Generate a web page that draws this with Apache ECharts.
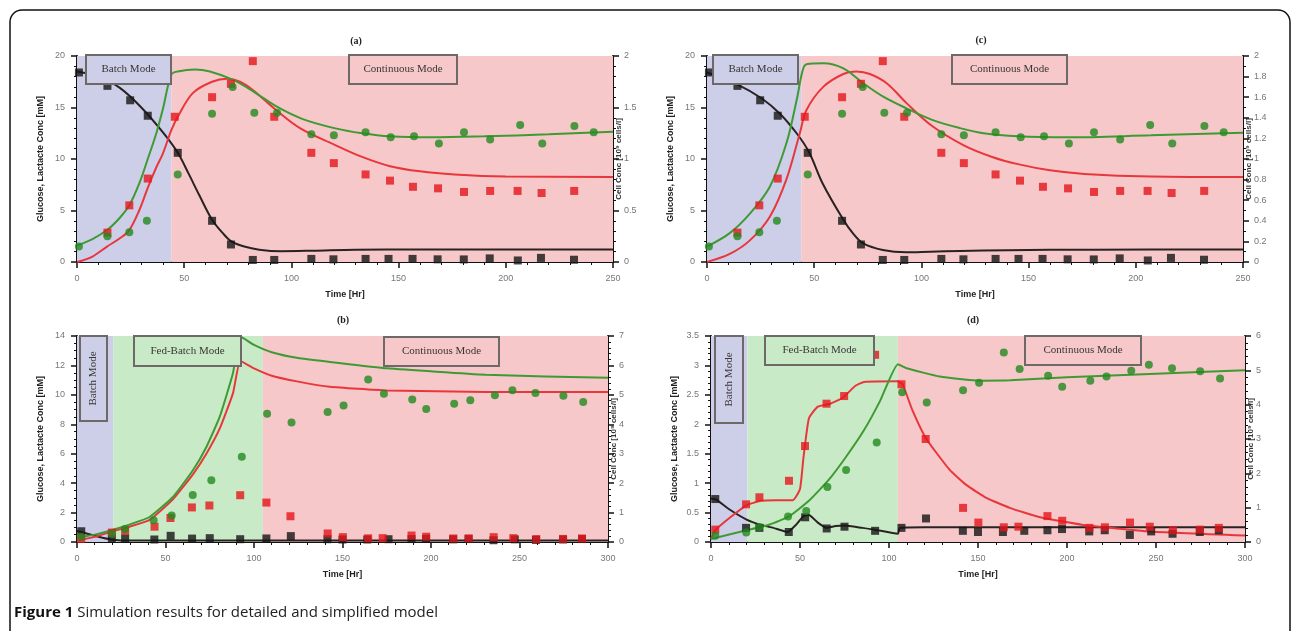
<!DOCTYPE html>
<html>
<head>
<meta charset="utf-8">
<script src="https://cdn.jsdelivr.net/npm/echarts@6/dist/echarts.min.js"></script>
<style>
  html, body { margin: 0; padding: 0; background: #fff; }
  #chart { width: 1292px; height: 631px; }
</style>
</head>
<body>
<div id="chart"></div>
<script>
// Four simulation panels: (a) (c) batch -> continuous, (b) (d) batch -> fed-batch -> continuous.
// Points are measurements, lines are model output. Glucose/lactate on the left axis,
// cell concentration on the right axis.

// ---- (a)/(c) measurements (same experiment in both panels) ----
const expGlucoseAC = [[0.9,18.4],[14.2,17.1],[24.8,15.7],[33,14.2],[47,10.6],[63,4.0],[71.8,1.7],[82,0.2],[92,0.2],[109.3,0.3],[119.6,0.26],[134.6,0.3],[145.3,0.3],[156.5,0.3],[168.2,0.26],[180.4,0.25],[192.5,0.35],[205.6,0.15],[216.4,0.4],[231.8,0.22]];
const expLactateAC = [[14.2,2.85],[24.4,5.5],[33,8.1],[45.6,14.1],[63,16.0],[71.8,17.3],[82,19.5],[92,14.1],[109.3,10.6],[119.8,9.6],[134.6,8.5],[146,7.9],[156.7,7.3],[168.4,7.15],[180.5,6.8],[192.7,6.9],[205.5,6.9],[216.7,6.7],[231.9,6.9]];
const expCellsAC = [[0.9,0.15],[14.2,0.25],[24.4,0.29],[32.6,0.40],[47,0.85],[63,1.44],[72.6,1.70],[82.7,1.45],[93.3,1.45],[109.3,1.24],[119.8,1.23],[134.6,1.26],[146.3,1.21],[157.2,1.22],[168.8,1.15],[180.5,1.26],[192.7,1.19],[206.7,1.33],[217,1.15],[232,1.32],[241,1.26]];

// ---- (a) model ----
const modelGlucoseA = [[0,18.5],[10,18.0],[20,16.9],[30,15.0],[40,12.6],[47,10.6],[52,8.6],[57,6.5],[63,4.1],[68,2.8],[72,2.0],[78,1.5],[85,1.2],[95,1.05],[110,1.1],[130,1.2],[160,1.22],[200,1.22],[250,1.22]];
const modelLactateA = [[0,0],[7,0.5],[14,1.5],[20,2.3],[24.4,3.1],[29,5.0],[33,7.2],[37,9.2],[40,10.5],[44,12.8],[47,14.1],[54,16.4],[63,17.5],[70,17.8],[76,17.5],[82,16.7],[92,14.9],[104,13.0],[120,11.4],[133,10.2],[146,9.3],[160,8.8],[176,8.5],[200,8.3],[250,8.25]];
const modelCellsA = [[0,0.16],[7,0.22],[14,0.31],[20,0.43],[24.4,0.55],[29,0.76],[33,1.0],[37,1.25],[40,1.48],[44,1.82],[47,1.85],[55,1.87],[62,1.85],[72.6,1.77],[82.7,1.65],[93,1.51],[105,1.39],[120,1.3],[133,1.25],[146,1.22],[165,1.21],[190,1.22],[220,1.24],[250,1.265]];

// ---- (c) model ----
const modelGlucoseC = [[0,18.4],[14.5,17.2],[25.4,15.9],[34,14.4],[41.8,12.5],[47.5,10.7],[54,7.6],[63.6,4.1],[68,2.8],[72.9,1.8],[82,1.16],[93,0.94],[104,1.0],[118,1.07],[140,1.15],[180,1.2],[250,1.22]];
const modelLactateC = [[0,0],[10.6,0.78],[20,2.1],[29.3,4.4],[37,8.0],[43.3,12.5],[46.4,14.75],[54.2,17.0],[63.6,18.25],[69.8,18.5],[76,18.25],[83.8,17.35],[93.2,15.4],[105,13.2],[120,11.3],[133,10.2],[145,9.5],[160,8.9],[176,8.55],[207,8.3],[250,8.25]];
const modelCellsC = [[0,0.15],[10.6,0.28],[20,0.47],[29.3,0.73],[37,1.15],[41.8,1.57],[44.6,1.86],[46.4,1.92],[54.2,1.93],[63.6,1.88],[72.9,1.735],[82.2,1.605],[93.2,1.49],[105,1.38],[118,1.3],[129,1.25],[145,1.22],[168,1.21],[207,1.23],[250,1.255]];

// ---- (b)/(d) measurements (same experiment in both panels) ----
const expGlucoseBD = [[2.4,0.73],[19.7,0.24],[27.2,0.24],[43.7,0.17],[52.9,0.42],[65,0.23],[75,0.26],[92.2,0.19],[107,0.24],[120.8,0.4],[141.5,0.19],[150,0.17],[164,0.17],[176,0.19],[189,0.2],[197.2,0.22],[212.5,0.18],[221.2,0.2],[235.3,0.12],[247.3,0.18],[259.3,0.14],[274.6,0.17],[285.3,0.2]];
const expLactateBD = [[2.4,0.21],[19.7,0.64],[27.2,0.76],[43.8,1.04],[52.8,1.63],[64.9,2.35],[74.8,2.48],[92.2,3.18],[107,2.68],[120.6,1.75],[141.6,0.58],[150.2,0.33],[164.5,0.25],[172.7,0.26],[189,0.44],[197.3,0.36],[212.6,0.24],[221.3,0.25],[235.4,0.33],[246.5,0.26],[259.5,0.2],[274.6,0.21],[285.3,0.24]];
const expCellsBD = [[2.4,0.18],[19.8,0.28],[27.1,0.44],[43.3,0.74],[53.5,0.9],[65.4,1.6],[75.9,2.1],[93.1,2.9],[107.4,4.36],[121.2,4.06],[141.6,4.42],[150.6,4.64],[164.5,5.52],[173.4,5.04],[189.4,4.84],[197.3,4.52],[213.1,4.7],[222.2,4.82],[236.1,4.99],[246,5.16],[259,5.06],[274.8,4.97],[286,4.76]];

// ---- (b) model ----
const modelGlucoseB = [[0,0.75],[5,0.6],[10,0.42],[15,0.27],[20,0.16],[30,0.1],[60,0.1],[105,0.1],[200,0.1],[300,0.1]];
const modelLactateB = [[0,0.1],[10,0.35],[19.4,0.7],[30,1.05],[41,1.5],[54.2,2.9],[65.5,4.6],[73.1,6.0],[80.6,7.7],[88.1,10.1],[92.3,12.3],[100,11.8],[110,11.3],[125,10.9],[142.8,10.55],[175,10.3],[231,10.2],[300,10.2]];
const modelCellsB = [[0,0.15],[10,0.25],[19.4,0.4],[30,0.6],[41,0.85],[54.2,1.53],[65.5,2.44],[73.1,3.23],[80.6,4.25],[88.1,5.73],[92.3,6.98],[100,6.7],[110,6.45],[125,6.25],[142.8,6.12],[175,5.9],[231,5.68],[300,5.58]];

// ---- (d) model ----
const modelGlucoseD = [[0,0.74],[3,0.72],[10,0.56],[20,0.38],[27,0.3],[35,0.24],[43,0.17],[48,0.3],[52,0.44],[55,0.46],[60,0.33],[65,0.24],[70,0.27],[75,0.28],[85,0.24],[92,0.21],[105,0.14],[106,0.24],[120,0.25],[200,0.25],[300,0.25]];
const modelLactateD = [[0,0.05],[2.4,0.2],[10,0.4],[19.7,0.62],[28,0.7],[36,0.71],[46,0.71],[50,0.9],[52,1.45],[55,2.1],[60,2.3],[67,2.35],[74,2.45],[81,2.65],[86,2.72],[105,2.73],[107.8,2.67],[113,2.25],[121,1.75],[134,1.23],[143.4,0.97],[154.7,0.75],[167.8,0.58],[185,0.42],[209,0.29],[246.5,0.18],[300,0.11]];
const modelCellsD = [[0,0.09],[20,0.34],[33,0.51],[44,0.75],[55,1.2],[66,1.8],[76,2.49],[86,3.26],[95,4.11],[105,5.18],[110,5.06],[128.5,4.82],[151,4.7],[168,4.71],[200,4.8],[250,4.9],[300,5.0]];

// ---- operating-mode spans [mode, start, end] (hours) ----
const modesAC = [['batch',0,44],['cont',44,250]];
const modesBD = [['batch',0,20.5],['fed',20.5,105],['cont',105,300]];

const LEFT_NAME = 'Glucose, Lactacte Conc [mM]';
const RIGHT_NAME = 'Cell Conc [10\u2079 cells/l]';

const REGION = { batch: '#cdcee8', fed: '#c9eac6', cont: '#f6c8c9' };
const PT = { glu: '#151515', lac: '#e5161c', cell: '#23891f' };
const LN = { glu: '#2a2222', lac: '#e8373c', cell: '#3f9a34' };
const SERIF = 'Liberation Serif';
const SANS = 'Liberation Sans';

// order: a, c, b, d
const panels = [
  { title: '(a)', tx: 356, ty: 41, grid: { left: 77, top: 56, width: 536, height: 206 }, xMax: 250,
    left: { max: 20, interval: 5, minor: 5 }, right: { max: 2, interval: 0.5, minor: 5 },
    modes: modesAC, smooth: 0.35,
    model: [modelGlucoseA, modelLactateA, modelCellsA], exp: [expGlucoseAC, expLactateAC, expCellsAC] },
  { title: '(c)', tx: 981, ty: 40, grid: { left: 707, top: 56, width: 536, height: 206 }, xMax: 250,
    left: { max: 20, interval: 5, minor: 5 }, right: { max: 2, interval: 0.2, minor: 2 },
    modes: modesAC, smooth: 0.35,
    model: [modelGlucoseC, modelLactateC, modelCellsC], exp: [expGlucoseAC, expLactateAC, expCellsAC] },
  { title: '(b)', tx: 343, ty: 320, grid: { left: 77, top: 336, width: 531, height: 206 }, xMax: 300,
    left: { max: 14, interval: 2, minor: 4 }, right: { max: 7, interval: 1, minor: 5 },
    modes: modesBD, smooth: 0.15,
    model: [modelGlucoseB, modelLactateB, modelCellsB], exp: [expGlucoseBD, expLactateBD, expCellsBD] },
  { title: '(d)', tx: 973, ty: 320, grid: { left: 711, top: 336, width: 534, height: 206 }, xMax: 300,
    left: { max: 3.5, interval: 0.5, minor: 5 }, right: { max: 6, interval: 1, minor: 5 },
    modes: modesBD, smooth: 0.15,
    model: [modelGlucoseD, modelLactateD, modelCellsD], exp: [expGlucoseBD, expLactateBD, expCellsBD] },
];

// mode label boxes: [text, x, y, w, h, vertical, mode]
const modeBoxes = [
  ['Batch Mode', 86, 55, 85, 29, false, 'batch'],
  ['Continuous Mode', 349, 55, 108, 29, false, 'cont'],
  ['Batch Mode', 713, 55, 85, 29, false, 'batch'],
  ['Continuous Mode', 952, 55, 115, 29, false, 'cont'],
  ['Batch Mode', 80, 336, 27, 85, true, 'batch'],
  ['Fed-Batch Mode', 134, 336, 107, 30, false, 'fed'],
  ['Continuous Mode', 384, 337, 115, 29, false, 'cont'],
  ['Batch Mode', 715, 336, 28, 87, true, 'batch'],
  ['Fed-Batch Mode', 765, 336, 109, 29, false, 'fed'],
  ['Continuous Mode', 1025, 336, 116, 29, false, 'cont'],
];

const axisLine = { show: true, onZero: false, lineStyle: { color: '#111', width: 2 } };
const axisTick = { show: true, length: 6, lineStyle: { color: '#111', width: 1.5 } };
const minorStyle = { color: '#111', width: 1 };
const labelStyle = { color: '#777', fontSize: 9, fontFamily: SANS };
const nameStyle = { color: '#222', fontSize: 9, fontWeight: 'bold', fontFamily: SANS };

const xAxes = [], yAxes = [], series = [];

panels.forEach((p, g) => {
  xAxes.push({
    type: 'value', gridIndex: g, min: 0, max: p.xMax, interval: 50,
    axisLine, axisTick,
    minorTick: { show: true, splitNumber: 5, length: 3, lineStyle: minorStyle },
    splitLine: { show: false },
    axisLabel: { ...labelStyle, margin: 12 },
    name: 'Time [Hr]', nameLocation: 'middle', nameGap: 28, nameMoveOverlap: false, nameTextStyle: nameStyle,
  });
  yAxes.push({
    type: 'value', gridIndex: g, position: 'left', min: 0, max: p.left.max, interval: p.left.interval,
    axisLine, axisTick,
    minorTick: { show: true, splitNumber: p.left.minor, length: 3, lineStyle: minorStyle },
    splitLine: { show: false },
    axisLabel: { ...labelStyle, margin: 12 },
    name: LEFT_NAME, nameLocation: 'middle', nameGap: 32, nameRotate: 90, nameMoveOverlap: false,
    nameTextStyle: nameStyle,
  });
  yAxes.push({
    type: 'value', gridIndex: g, position: 'right', min: 0, max: p.right.max, interval: p.right.interval,
    axisLine, axisTick,
    minorTick: { show: true, splitNumber: p.right.minor, length: 3, lineStyle: minorStyle },
    splitLine: { show: false },
    axisLabel: { ...labelStyle, margin: 11 },
    name: RIGHT_NAME, nameLocation: 'middle', nameGap: 2, nameRotate: 90, nameMoveOverlap: false,
    nameTextStyle: { ...nameStyle, fontSize: 8, color: '#333' },
  });

  const yl = 2 * g, yr = 2 * g + 1;
  // background mode spans
  series.push({
    type: 'line', xAxisIndex: g, yAxisIndex: yl, data: [], silent: true, z: 1,
    markArea: {
      silent: true,
      data: p.modes.map(([m, a, b]) => [{ xAxis: a, itemStyle: { color: REGION[m], opacity: 1 } }, { xAxis: b }]),
    },
  });
  const keys = ['glu', 'lac', 'cell'];
  keys.forEach((k, i) => {
    series.push({
      type: 'line', xAxisIndex: g, yAxisIndex: k === 'cell' ? yr : yl,
      data: p.model[i], showSymbol: false, smooth: p.smooth, silent: true, z: 3,
      lineStyle: { color: LN[k], width: 2 },
    });
  });
  keys.forEach((k, i) => {
    series.push({
      type: 'scatter', xAxisIndex: g, yAxisIndex: k === 'cell' ? yr : yl,
      data: p.exp[i], symbol: k === 'cell' ? 'circle' : 'rect', symbolSize: 8, silent: true, z: 4,
      itemStyle: { color: PT[k] },
    });
  });
});

const graphic = [
  { type: 'rect', z: 20, shape: { x: 10, y: 10, width: 1280, height: 700, r: 12 },
    style: { fill: 'none', stroke: '#111', lineWidth: 1.5 } },
  { type: 'text', z: 20, x: 14, y: 613,
    style: {
      text: '{b|Figure 1} Simulation results for detailed and simplified model',
      fontFamily: 'Open Sans', fontSize: 15, fill: '#222', verticalAlign: 'middle',
      rich: { b: { fontFamily: 'Open Sans', fontSize: 15, fontWeight: 'bold', fill: '#111' } },
    } },
];
panels.forEach((p) => {
  graphic.push({ type: 'text', z: 20, x: p.tx, y: p.ty,
    style: { text: p.title, fontFamily: SERIF, fontSize: 10, fontWeight: 'bold', fill: '#222',
      align: 'center', verticalAlign: 'middle' } });
});
modeBoxes.forEach(([text, x, y, w, h, vertical, m]) => {
  graphic.push({ type: 'rect', z: 10, shape: { x, y, width: w, height: h },
    style: { fill: REGION[m], stroke: '#6f6868', lineWidth: 2 } });
  graphic.push({ type: 'text', z: 11, x: x + w / 2, y: y + h / 2, rotation: vertical ? Math.PI / 2 : 0,
    style: { text, fontFamily: SERIF, fontSize: 11, fill: '#3a3535', align: 'center', verticalAlign: 'middle' } });
});

const chart = echarts.init(document.getElementById('chart'), null, { renderer: 'canvas' });
chart.setOption({
  animation: false,
  backgroundColor: '#fff',
  grid: panels.map((p) => ({ ...p.grid, containLabel: false })),
  xAxis: xAxes,
  yAxis: yAxes,
  series,
  graphic,
});
</script>
</body>
</html>
